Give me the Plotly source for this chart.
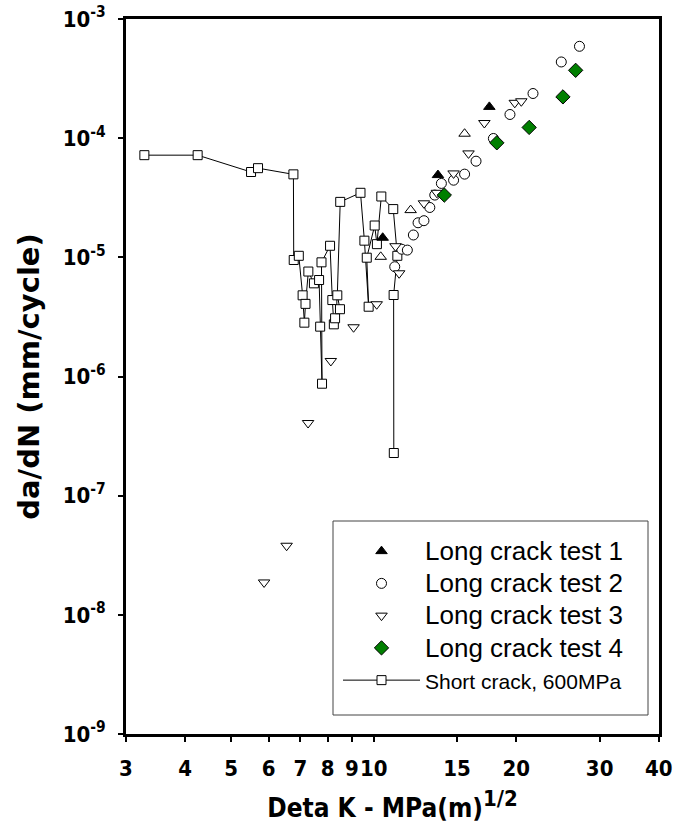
import plotly.graph_objects as go

# ---- data ----
short_x = [3.28, 4.25, 5.51, 5.70, 6.77, 6.78, 6.95, 7.08, 7.14, 7.18, 7.28, 7.48, 7.67, 7.71, 7.78,
           7.76, 8.09, 8.18, 8.24, 8.29, 8.49, 8.38, 8.50, 9.38, 9.56, 9.76, 9.67, 10.05, 10.16,
           10.38, 11.0, 11.22, 11.02, 11.03]
short_y = [7.2e-5, 7.2e-5, 5.2e-5, 5.6e-5, 4.97e-5, 9.5e-6, 1.03e-5, 4.8e-6, 2.83e-6, 4.07e-6,
           7.6e-6, 6.05e-6, 6.45e-6, 2.62e-6, 8.7e-7, 9.08e-6, 1.25e-5, 4.38e-6, 2.74e-6, 3.08e-6,
           3.67e-6, 4.8e-6, 2.92e-5, 3.48e-5, 1.38e-5, 3.85e-6, 9.93e-6, 1.85e-5, 1.29e-5, 3.24e-5,
           2.54e-5, 1.03e-5, 4.83e-6, 2.28e-7]

test1_x = [10.45, 13.67, 17.55]
test1_y = [1.46e-5, 4.9e-5, 1.83e-4]
test1_open_x = [10.35, 11.97, 15.56]
test1_open_y = [1.01e-5, 2.49e-5, 1.09e-4]

test2_x = [11.08, 11.46, 11.78, 12.13, 12.41, 12.77, 13.14, 13.46, 13.9, 14.75, 15.56, 16.45,
           17.9, 19.4, 21.7, 24.9, 27.2]
test2_y = [8.34e-6, 1.17e-5, 1.15e-5, 1.54e-5, 1.95e-5, 2.03e-5, 2.62e-5, 3.33e-5, 4.17e-5,
           4.44e-5, 4.99e-5, 6.41e-5, 9.94e-5, 1.58e-4, 2.37e-4, 4.36e-4, 5.9e-4]

test3_x = [5.87, 6.55, 7.27, 8.12, 9.07, 10.15, 11.12, 11.32, 12.77, 13.6, 14.75, 15.86, 17.13,
           19.86, 20.5]
test3_y = [1.87e-8, 3.8e-8, 4.07e-7, 1.35e-6, 2.59e-6, 4.04e-6, 1.24e-5, 7.35e-6, 2.84e-5,
           3.48e-5, 5.06e-5, 7.45e-5, 1.34e-4, 1.98e-4, 2.04e-4]

test4_x = [14.1, 18.2, 21.3, 25.1, 26.7]
test4_y = [3.33e-5, 9.14e-5, 1.23e-4, 2.22e-4, 3.71e-4]

x_tickvals = [3, 4, 5, 6, 7, 8, 9, 10, 15, 20, 30, 40]
x_ticktext = ["3", "4", "5", "6", "7", "8", "9", "10", "15", "20", "30", "40"]
y_tickvals = [1e-9, 1e-8, 1e-7, 1e-6, 1e-5, 1e-4, 1e-3]
y_ticktext = ["10<sup>-9</sup>", "10<sup>-8</sup>", "10<sup>-7</sup>", "10<sup>-6</sup>",
              "10<sup>-5</sup>", "10<sup>-4</sup>", "10<sup>-3</sup>"]

AXFONT = "DejaVu Sans Condensed"
LEGFONT = "Liberation Sans, Arial"

def big(name, px):
    return '<span style="font-size:%dpx">%s</span>' % (px, name)

fig = go.Figure()

fig.add_trace(go.Scatter(
    x=short_x, y=short_y, mode="lines+markers",
    name=big("Short crack, 600MPa", 21),
    line=dict(color="black", width=1),
    marker=dict(symbol="square", size=9, color="white", line=dict(color="black", width=1)),
    legendrank=5))

fig.add_trace(go.Scatter(
    x=test1_open_x, y=test1_open_y, mode="markers", showlegend=False,
    marker=dict(symbol="triangle-up", size=10, color="white", line=dict(color="black", width=1))))

fig.add_trace(go.Scatter(
    x=test2_x, y=test2_y, mode="markers", name=big("Long crack test 2", 26),
    marker=dict(symbol="circle", size=10, color="white", line=dict(color="black", width=1)),
    legendrank=2))

fig.add_trace(go.Scatter(
    x=test3_x, y=test3_y, mode="markers", name=big("Long crack test 3", 26),
    marker=dict(symbol="triangle-down", size=10, color="white", line=dict(color="black", width=1)),
    legendrank=3))

fig.add_trace(go.Scatter(
    x=test1_x, y=test1_y, mode="markers", name=big("Long crack test 1", 26),
    marker=dict(symbol="triangle-up", size=10, color="black", line=dict(color="black", width=1)),
    legendrank=1))

fig.add_trace(go.Scatter(
    x=test4_x, y=test4_y, mode="markers", name=big("Long crack test 4", 26),
    marker=dict(symbol="diamond", size=11, color="#007f00", line=dict(color="black", width=1)),
    legendrank=4))

W, H = 686, 835
L, R, T, B = 126, 27, 19, 101
pw, ph = W - L - R, H - T - B

def px_x(p):
    return (p - L) / pw

def px_y(p):
    return 1 - (p - T) / ph

fig.update_layout(
    width=W, height=H,
    margin=dict(l=L, r=R, t=T, b=B, autoexpand=False),
    paper_bgcolor="white", plot_bgcolor="white",
    font=dict(family=AXFONT, color="black"),
    xaxis=dict(
        type="log", range=[0.4771, 1.6025],
        tickvals=x_tickvals, ticktext=x_ticktext, tickangle=0,
        showgrid=False, zeroline=False,
        showline=True, linecolor="black", linewidth=3, mirror=True,
        ticks="outside", ticklen=5, tickwidth=1.5, tickcolor="black",
        tickfont=dict(family=AXFONT, size=22, color="black", weight="bold"),
        ticklabelstandoff=8,
        title=dict(text='<b>Deta K - MPa(m)<sup><span style="font-size:22px">1/2</span></sup></b>',
                   font=dict(family=AXFONT, size=26, color="black"), standoff=19),
    ),
    yaxis=dict(
        type="log", range=[-9, -3],
        tickvals=y_tickvals, ticktext=y_ticktext,
        showgrid=False, zeroline=False,
        showline=True, linecolor="black", linewidth=3, mirror=True,
        ticks="outside", ticklen=5, tickwidth=1.5, tickcolor="black",
        tickfont=dict(family=AXFONT, size=22, color="black", weight="bold"),
        ticklabelstandoff=8,
        title=dict(text="<b>da/dN (mm/cycle)</b>",
                   font=dict(family="DejaVu Sans", size=29, color="black"), standoff=15),
    ),
    legend=dict(
        x=px_x(338), y=px_y(530), xanchor="left", yanchor="top",
        bgcolor="rgba(0,0,0,0)", borderwidth=0,
        font=dict(family=LEGFONT, size=22.5, color="black"),
        itemwidth=77, tracegroupgap=0,
    ),
    shapes=[dict(type="rect", xref="paper", yref="paper",
                 x0=px_x(333), x1=px_x(648), y0=px_y(715), y1=px_y(521),
                 line=dict(color="#444", width=1), fillcolor="rgba(0,0,0,0)")],
)

fig.write_html("out.html")
